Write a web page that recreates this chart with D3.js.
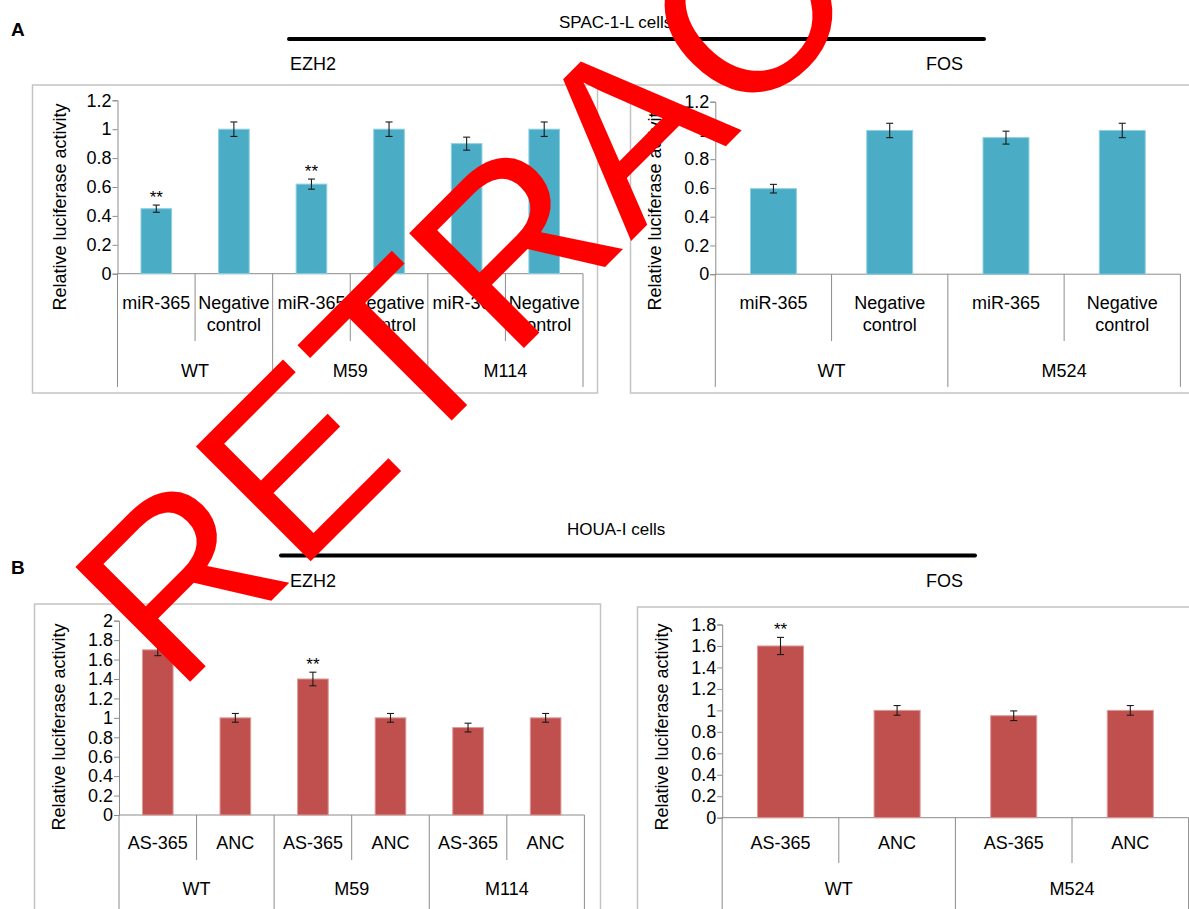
<!DOCTYPE html>
<html><head><meta charset="utf-8">
<script src="https://cdn.jsdelivr.net/npm/d3@7"></script>
<style>html,body{margin:0;padding:0;background:#fff;} svg{display:block;}</style>
</head><body>
<svg id="c" width="1189" height="909"></svg>
<script>
// ---------------- DATA ----------------
const ezh2Groups = ["WT", "M59", "M114"];
const fosGroups = ["WT", "M524"];
const spacCategories = ["miR-365", "Negative control"];
const houaCategories = ["AS-365", "ANC"];

const spacEzh2Values = [0.45, 1.00, 0.62, 1.00, 0.90, 1.00];
const spacEzh2Errors = [0.025, 0.05, 0.035, 0.05, 0.045, 0.05];
const spacEzh2Sig    = ["**", "", "**", "", "", ""];

const spacFosValues = [0.595, 1.00, 0.95, 1.00];
const spacFosErrors = [0.03, 0.05, 0.045, 0.05];
const spacFosSig    = ["", "", "", ""];

const houaEzh2Values = [1.70, 1.00, 1.40, 1.00, 0.90, 1.00];
const houaEzh2Errors = [0.06, 0.045, 0.07, 0.045, 0.045, 0.045];
const houaEzh2Sig    = ["**", "", "**", "", "", ""];

const houaFosValues = [1.60, 1.00, 0.95, 1.00];
const houaFosErrors = [0.08, 0.045, 0.045, 0.045];
const houaFosSig    = ["**", "", "", ""];

const ticks12 = [0, 0.2, 0.4, 0.6, 0.8, 1, 1.2];
const tickLabels12 = ["0", "0.2", "0.4", "0.6", "0.8", "1", "1.2"];
const ticks20 = [0, 0.2, 0.4, 0.6, 0.8, 1, 1.2, 1.4, 1.6, 1.8, 2];
const tickLabels20 = ["0", "0.2", "0.4", "0.6", "0.8", "1", "1.2", "1.4", "1.6", "1.8", "2"];
const ticks18 = [0, 0.2, 0.4, 0.6, 0.8, 1, 1.2, 1.4, 1.6, 1.8];
const tickLabels18 = ["0", "0.2", "0.4", "0.6", "0.8", "1", "1.2", "1.4", "1.6", "1.8"];

const yTitle = "Relative luciferase activity";
const cellTitles = ["SPAC-1-L cells", "HOUA-I cells"];
const geneTitles = ["EZH2", "FOS"];
const panelLetters = ["A", "B"];
const watermark = "RETRACTED";

// ---------------- DRAWING ----------------
const FONT = "'Liberation Sans', Arial, Helvetica, sans-serif";
const svg = d3.select("#c");
const BLUE = "#4bacc6", BLUE_EDGE = "#8fd0e0";
const RED = "#c0504d", RED_EDGE = "#dc9a98";
const AXIS = "#8c8c8c", FRAME = "#c4c4c4";

function txt(g, x, y, s, size, anchor, weight) {
  return g.append("text").attr("x", x).attr("y", y).attr("font-family", FONT)
    .attr("font-size", size).attr("text-anchor", anchor || "start")
    .attr("font-weight", weight || "normal").attr("fill", "#000").text(s);
}

function drawPanel(p) {
  const g = svg.append("g");
  g.append("rect").attr("x", p.frame[0]).attr("y", p.frame[1])
    .attr("width", p.frame[2]).attr("height", p.frame[3])
    .attr("fill", "#fff").attr("stroke", FRAME).attr("stroke-width", 1.5);

  const cats = [];
  p.groups.forEach(gr => p.categories.forEach(c => cats.push(gr + "|" + c)));
  const n = cats.length;
  const x = d3.scaleBand().domain(cats).range([p.x0, p.x1]).paddingInner(0.605).paddingOuter(0.3025);
  const y = d3.scaleLinear().domain([0, p.ymax]).range([p.yZero, p.yTop]);
  const step = x.step();

  // separators
  d3.range(n + 1).forEach(i => {
    const xx = p.x0 + i * step;
    const long = i % p.categories.length === 0;
    g.append("line").attr("x1", xx).attr("x2", xx).attr("y1", y(0))
      .attr("y2", long ? p.longEnd : p.shortEnd).attr("stroke", AXIS).attr("stroke-width", 1);
  });
  // x axis line
  g.append("line").attr("x1", p.x0).attr("x2", p.x1).attr("y1", y(0)).attr("y2", y(0))
    .attr("stroke", AXIS).attr("stroke-width", 1);

  // y axis
  const ay = g.append("g").attr("transform", `translate(${p.x0},0)`)
    .call(d3.axisLeft(y).tickValues(p.ticks).tickFormat((d, i) => p.tickLabels[i])
      .tickSizeOuter(0).tickSize(5).tickPadding(1));
  ay.select(".domain").attr("stroke", AXIS);
  ay.selectAll(".tick line").attr("stroke", AXIS);
  ay.selectAll(".tick text").attr("font-family", FONT).attr("font-size", 18).attr("fill", "#000");

  // bars
  g.selectAll("rect.bar").data(p.values).join("rect").attr("class", "bar")
    .attr("x", (d, i) => x(cats[i])).attr("width", x.bandwidth())
    .attr("y", d => y(d)).attr("height", d => y(0) - y(d))
    .attr("fill", p.color).attr("stroke", p.edge).attr("stroke-width", 1);

  // error bars
  p.values.forEach((v, i) => {
    const cx = x(cats[i]) + x.bandwidth() / 2;
    const e = p.errors[i];
    const eg = g.append("g").attr("stroke", "#1a1a1a").attr("stroke-width", 1.1);
    eg.append("line").attr("x1", cx).attr("x2", cx).attr("y1", y(v + e)).attr("y2", y(v - e));
    eg.append("line").attr("x1", cx - 3.5).attr("x2", cx + 3.5).attr("y1", y(v + e)).attr("y2", y(v + e));
    eg.append("line").attr("x1", cx - 3.5).attr("x2", cx + 3.5).attr("y1", y(v - e)).attr("y2", y(v - e));
    if (p.sig[i]) txt(g, cx, y(v + e) - 2, p.sig[i], 17, "middle");
  });

  // category labels
  cats.forEach((c, i) => {
    const cx = x(c) + x.bandwidth() / 2;
    const label = c.split("|")[1];
    const parts = label.split(" ");
    parts.forEach((s, k) => txt(g, cx, p.labelY + k * 22, s, 18, "middle"));
  });
  // group labels
  p.groups.forEach((gr, j) => {
    const cx = p.x0 + (j + 0.5) * step * p.categories.length;
    txt(g, cx, p.groupY, gr, 18, "middle");
  });

  // y title
  g.append("text").attr("transform", `translate(${p.titleX},${p.titleY}) rotate(-90)`)
    .attr("font-family", FONT).attr("font-size", 18).attr("text-anchor", "middle")
    .attr("fill", "#000").text(yTitle);
}

// headers
const hg = svg.append("g");
txt(hg, 11, 36, panelLetters[0], 19, "start", "bold");
txt(hg, 11, 574, panelLetters[1], 19, "start", "bold");
txt(hg, 559, 28, cellTitles[0], 17, "start");
txt(hg, 567, 535, cellTitles[1], 17, "start");
hg.append("line").attr("x1", 289).attr("x2", 984).attr("y1", 39).attr("y2", 39)
  .attr("stroke", "#000").attr("stroke-width", 4).attr("stroke-linecap", "round");
hg.append("line").attr("x1", 281).attr("x2", 975).attr("y1", 555.5).attr("y2", 555.5)
  .attr("stroke", "#000").attr("stroke-width", 4).attr("stroke-linecap", "round");
txt(hg, 290, 70, geneTitles[0], 18, "start");
txt(hg, 926, 70, geneTitles[1], 18, "start");
txt(hg, 290, 587, geneTitles[0], 18, "start");
txt(hg, 926, 587, geneTitles[1], 18, "start");

drawPanel({frame: [32.5, 85, 565, 308], x0: 117.5, x1: 583, yZero: 273.7, yTop: 100.3, ymax: 1.2,
  ticks: ticks12, tickLabels: tickLabels12, groups: ezh2Groups, categories: spacCategories,
  values: spacEzh2Values, errors: spacEzh2Errors, sig: spacEzh2Sig, color: BLUE, edge: BLUE_EDGE,
  labelY: 309, groupY: 377, shortEnd: 341, longEnd: 387, titleX: 66, titleY: 207});

drawPanel({frame: [630.5, 85, 600, 308], x0: 715.3, x1: 1180.4, yZero: 274.2, yTop: 101.7, ymax: 1.2,
  ticks: ticks12, tickLabels: tickLabels12, groups: fosGroups, categories: spacCategories,
  values: spacFosValues, errors: spacFosErrors, sig: spacFosSig, color: BLUE, edge: BLUE_EDGE,
  labelY: 309, groupY: 377, shortEnd: 341, longEnd: 387, titleX: 661, titleY: 207});

drawPanel({frame: [34.5, 604, 566, 340], x0: 119, x1: 584.4, yZero: 815, yTop: 620.7, ymax: 2,
  ticks: ticks20, tickLabels: tickLabels20, groups: ezh2Groups, categories: houaCategories,
  values: houaEzh2Values, errors: houaEzh2Errors, sig: houaEzh2Sig, color: RED, edge: RED_EDGE,
  labelY: 849, groupY: 895, shortEnd: 860, longEnd: 920, titleX: 65, titleY: 727});

drawPanel({frame: [637.5, 607, 600, 340], x0: 722.2, x1: 1188.6, yZero: 817.7, yTop: 624.5, ymax: 1.8,
  ticks: ticks18, tickLabels: tickLabels18, groups: fosGroups, categories: houaCategories,
  values: houaFosValues, errors: houaFosErrors, sig: houaFosSig, color: RED, edge: RED_EDGE,
  labelY: 849, groupY: 895, shortEnd: 863, longEnd: 920, titleX: 668, titleY: 727});

// watermark
svg.append("text").attr("transform", "translate(176.6,695.6) rotate(-45)")
  .attr("font-family", FONT).attr("font-size", 236).attr("fill", "#ff0000").text(watermark);
</script>
</body></html>
